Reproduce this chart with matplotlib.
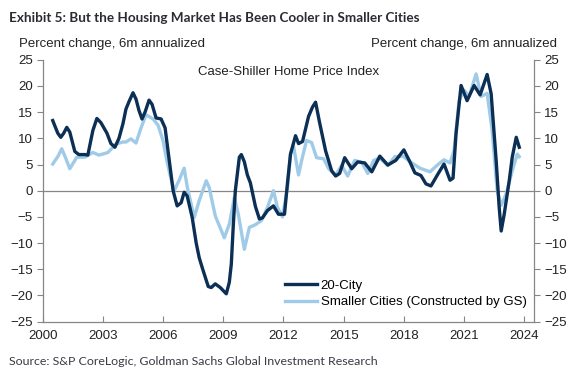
import matplotlib
matplotlib.use("Agg")
import matplotlib.pyplot as plt

# 20-City series (decimal year, percent change 6m annualized)
city20_t = [2000.5, 2000.75, 2000.9, 2001.05, 2001.2, 2001.35, 2001.6, 2001.8, 2002.1, 2002.25,
            2002.5, 2002.7, 2002.9, 2003.2, 2003.4, 2003.6, 2003.8, 2004.0, 2004.15, 2004.3,
            2004.5, 2004.65, 2004.8, 2004.95, 2005.1, 2005.3, 2005.45, 2005.65, 2005.9, 2006.1,
            2006.3, 2006.5, 2006.7, 2006.9, 2007.05, 2007.2, 2007.45, 2007.65, 2007.8, 2007.95,
            2008.1, 2008.25, 2008.4, 2008.6, 2008.85, 2009.15, 2009.3, 2009.4, 2009.5, 2009.6,
            2009.8, 2009.9, 2010.05, 2010.2, 2010.35, 2010.6, 2010.8, 2010.95, 2011.2, 2011.5,
            2011.75, 2012.05, 2012.2, 2012.35, 2012.6, 2012.75, 2012.95, 2013.25, 2013.45, 2013.6,
            2013.8, 2014.1, 2014.4, 2014.6, 2014.8, 2015.05, 2015.4, 2015.7, 2016.05, 2016.4,
            2016.8, 2017.2, 2017.6, 2018.0, 2018.3, 2018.55, 2018.85, 2019.1, 2019.35, 2019.7,
            2020.0, 2020.3, 2020.45, 2020.6, 2020.85, 2021.15, 2021.5, 2021.8, 2022.15, 2022.35,
            2022.6, 2022.75, 2022.85, 2023.0, 2023.25, 2023.4, 2023.6, 2023.75]
city20_v = [13.4, 11.0, 10.2, 11.0, 12.1, 11.2, 7.5, 6.9, 6.9, 6.8,
            11.5, 13.8, 13.0, 11.0, 9.0, 8.3, 10.0, 12.8, 15.6, 17.0,
            18.7, 17.5, 15.3, 13.7, 15.0, 17.3, 16.5, 13.9, 13.7, 12.0,
            6.0, 0.0, -2.9, -2.3, -0.3, -1.0, -5.1, -10.0, -12.8, -14.7,
            -16.5, -18.3, -18.5, -17.8, -18.5, -19.7, -17.5, -14.0, -6.5, 0.0,
            6.4, 6.9, 5.5, 3.0, 1.5, -3.0, -5.4, -5.2, -3.8, -2.9,
            -4.5, -4.5, 1.5, 7.0, 10.5, 9.0, 9.4, 14.2, 16.0, 16.9,
            13.0, 7.6, 3.8, 2.8, 3.3, 6.3, 4.2, 5.5, 5.3, 3.6,
            6.6, 4.9, 5.8, 7.8, 5.5, 3.4, 2.9, 1.3, 0.9, 3.2,
            5.1, 2.0, 2.4, 10.9, 20.1, 17.2, 20.1, 18.3, 22.2, 18.5,
            5.7, -3.2, -7.7, -4.5, 1.9, 6.4, 10.2, 8.3]

# Smaller Cities series (constructed by GS)
small_t = [2000.5, 2000.75, 2000.95, 2001.15, 2001.35, 2001.7, 2002.1, 2002.5, 2002.8, 2003.0,
           2003.25, 2003.65, 2004.0, 2004.15, 2004.4, 2004.65, 2004.9, 2005.15, 2005.5, 2005.75,
           2006.0, 2006.2, 2006.35, 2006.55, 2006.8, 2007.05, 2007.2, 2007.55, 2007.8, 2008.15,
           2008.3, 2008.6, 2009.05, 2009.3, 2009.55, 2009.75, 2010.05, 2010.3, 2010.6, 2010.9,
           2011.2, 2011.5, 2011.7, 2011.95, 2012.2, 2012.35, 2012.5, 2012.75, 2012.9, 2013.15,
           2013.4, 2013.65, 2014.0, 2014.25, 2014.6, 2014.9, 2015.2, 2015.55, 2015.9, 2016.2,
           2016.5, 2016.8, 2017.2, 2017.55, 2017.95, 2018.4, 2018.8, 2019.3, 2019.7, 2020.0,
           2020.3, 2020.5, 2020.75, 2021.0, 2021.25, 2021.6, 2021.85, 2022.15, 2022.4, 2022.65,
           2022.85, 2023.1, 2023.4, 2023.65, 2023.75]
small_v = [5.1, 6.5, 8.0, 6.2, 4.2, 6.4, 6.4, 7.3, 6.8, 7.0,
           7.3, 8.9, 9.3, 9.3, 9.9, 9.1, 12.0, 14.5, 13.7, 12.5,
           9.5, 5.5, 3.0, 0.0, 2.0, 4.3, 0.8, -5.1, -1.9, 1.9,
           0.6, -4.8, -9.0, -6.4, -1.3, -4.5, -11.2, -7.0, -6.5, -5.7,
           -3.2, 0.0, -3.2, -5.0, 0.6, 7.0, 8.5, 3.0, 5.7, 9.6,
           9.2, 6.3, 6.1, 4.2, 3.0, 4.8, 2.8, 5.8, 5.4, 3.3,
           5.8, 6.2, 4.8, 6.5, 6.6, 5.3, 4.3, 3.6, 5.0, 5.9,
           5.3, 7.7, 17.2, 19.2, 18.0, 22.3, 18.0, 18.6, 11.5, 0.0,
           -2.8, -0.6, 3.8, 7.0, 6.5]

year_ticks = [2000, 2003, 2006, 2009, 2012, 2015, 2018, 2021, 2024]
y_ticks = [-25, -20, -15, -10, -5, 0, 5, 10, 15, 20, 25]

dark = "#0b2f55"
light = "#9fcbe8"
grey = "#868686"
txt = "#222222"

plt.rcParams["font.family"] = ["Liberation Sans", "DejaVu Sans"]

fig = plt.figure(figsize=(5.77, 3.81), dpi=100)
ax = fig.add_axes([0.074, 0.156, 0.852, 0.687])

ax.axhline(0, color=grey, lw=0.9, zorder=1)
ax.plot(small_t, small_v, color=light, lw=2.4, label="Smaller Cities (Constructed by GS)", zorder=2)
ax.plot(city20_t, city20_v, color=dark, lw=2.4, label="20-City", zorder=3)

ax.set_xlim(2000, 2024.5)
ax.set_ylim(-25, 25)
ax.set_xticks(year_ticks)
ax.set_yticks(y_ticks)
ax.tick_params(axis="x", direction="in", length=4, color=grey, labelsize=9.5, pad=6, labelcolor=txt)
ax.tick_params(axis="y", direction="out", length=4, color=grey, labelsize=9.5, labelcolor=txt,
               left=True, right=True, labelleft=True, labelright=True, pad=3)
ax.spines["top"].set_visible(False)
for s in ["left", "right", "bottom"]:
    ax.spines[s].set_color(grey)
    ax.spines[s].set_linewidth(0.9)

h, l = ax.get_legend_handles_labels()
ax.legend(h[::-1], l[::-1], loc="lower right", frameon=False, fontsize=9.5,
          handlelength=2.4, handletextpad=0.3, labelspacing=0.35,
          borderaxespad=0.2, bbox_to_anchor=(1.0, 0.02))

ax.text(0.5, 0.955, "Case-Shiller Home Price Index", transform=ax.transAxes,
        ha="center", va="center", fontsize=9.5, color=txt)

fig.text(0.033, 0.885, "Percent change, 6m annualized", ha="left", va="center",
         fontsize=9.5, color=txt)
fig.text(0.966, 0.885, "Percent change, 6m annualized", ha="right", va="center",
         fontsize=9.5, color=txt)

# narrow header / footer: fit to the width they take in the original
title = fig.text(0.016, 0.953, "Exhibit 5: But the Housing Market Has Been Cooler in Smaller Cities",
                 ha="left", va="center", fontsize=13, fontweight="bold", color="#2b2b33",
                 family=["Lato", "DejaVu Sans"])
source = fig.text(0.016, 0.05, "Source: S&P CoreLogic, Goldman Sachs Global Investment Research",
                  ha="left", va="center", fontsize=10.5, color="#3a3a44",
                  family=["Lato", "DejaVu Sans"])
r = fig.canvas.get_renderer()
for t, w in [(title, 410), (source, 371)]:
    cur = t.get_window_extent(r).width
    t.set_fontsize(t.get_fontsize() * w / cur)

fig.savefig("out.png", dpi=100)
